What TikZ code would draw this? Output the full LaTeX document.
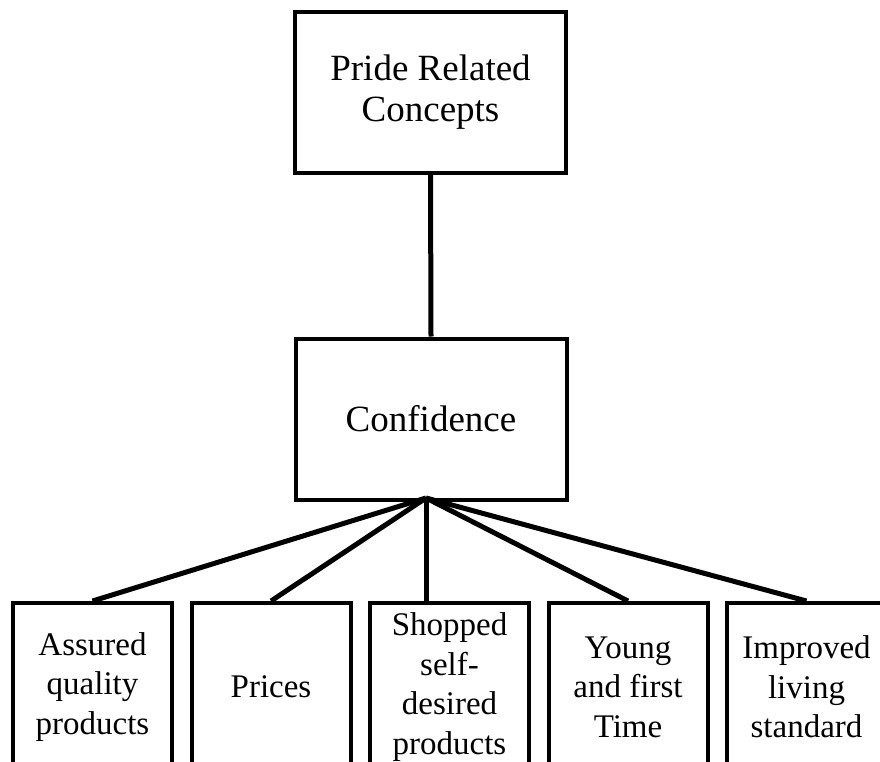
\documentclass[tikz,border=0pt]{standalone}
\usepackage{fontspec}
\setmainfont{Liberation Serif}
\begin{document}
\begin{tikzpicture}[x=1pt,y=-1pt,
  bigbox/.style={draw=black,line width=4pt,fill=white,align=center,
    minimum width=271pt,minimum height=161pt,inner sep=0pt,
    font=\fontsize{37}{41}\selectfont},
  leafbox/.style={draw=black,line width=4pt,fill=white,align=center,
    minimum width=159pt,minimum height=168pt,inner sep=0pt,
    font=\fontsize{33}{39.5}\selectfont},
  link/.style={line width=5pt,line join=round}]
\useasboundingbox (0,0) rectangle (880,762);
\clip (0,0) rectangle (880,762);

% main concept and its single branch
\node[bigbox] (pride) at (430.5,92.5) {Pride Related\\Concepts};
\node[bigbox] (conf) at (431,419) {Confidence};
\draw[link] (pride.south) -- (conf.north);

% leaf concepts
\node[leafbox] (b1) at (92.5,687) {Assured\\quality\\products};
\node[leafbox] (b2) at (271,687) {Prices};
\node[leafbox] (b3) at (449.5,687) {Shopped\\self-\\desired\\products};
\node[leafbox] (b4) at (628,687) {Young\\and first\\Time};
\node[leafbox] (b5) at (806.5,687) {Improved\\living\\standard};

% fan of connectors from one hub under Confidence
\coordinate (hub) at (426,498);
\draw[link] (hub) -- (b1.north);
\draw[link] (hub) -- (b2.north);
\draw[link] (hub) -- (hub |- b3.north);
\draw[link] (hub) -- (b4.north);
\draw[link] (hub) -- (b5.north);
\end{tikzpicture}
\end{document}
